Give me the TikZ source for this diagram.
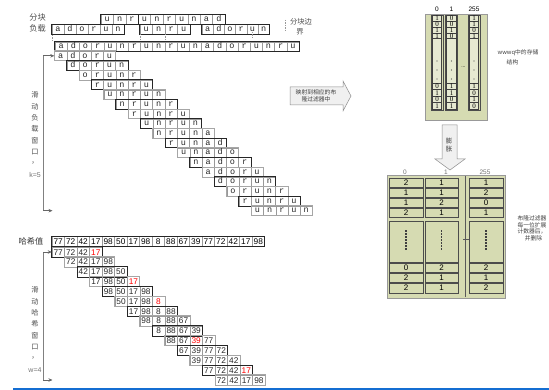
\documentclass[tikz,border=0pt]{standalone}
\usepackage{fontspec}
\setmainfont{Liberation Sans}
\newfontfamily\cjk{Noto Sans CJK SC}
\newfontfamily\monof{Liberation Mono}
\newfontfamily\seriff{Liberation Serif}
\usetikzlibrary{arrows.meta}
\definecolor{khaki}{RGB}{214,219,178}
\definecolor{bline}{RGB}{20,110,210}
\begin{document}
\begin{tikzpicture}[x=1pt,y=-1pt,
 lbl/.style={text=black!70, font=\cjk\fontsize{8.2}{8.5}\selectfont, inner sep=0pt},
 vlbl/.style={text=black!70, font=\cjk\fontsize{7.2}{7.5}\selectfont, inner sep=0pt},
 small/.style={text=black!75, font=\cjk\fontsize{5.8}{6.6}\selectfont, inner sep=0pt, align=center},
 lcell/.style={draw=black!40, line width=0.4pt, inner sep=0pt, minimum width=12.2pt, minimum height=9.5pt, text=black!85, font=\monof\fontsize{8.5}{8.5}\selectfont, text height=4.9pt, text depth=0.3pt},
 hcell/.style={draw=black!40, line width=0.4pt, inner sep=0pt, minimum width=12.5pt, minimum height=10pt, font=\fontsize{8.3}{8.3}\selectfont, text height=6pt, text depth=0pt},
 grpdark/.style={draw=black!85, line width=0.8pt},
 bound/.style={draw=black!40, dash pattern=on 1.5pt off 1pt, line width=0.5pt},
 brk/.style={draw=black!50, line width=0.5pt},
 brkarrow/.style={draw=black!60, line width=0.6pt, -{Stealth[length=4pt,width=3.5pt]}},
 blockarrow/.style={draw=black!45, fill=black!6, line width=0.5pt},
 khbox/.style={draw=black!40, fill=khaki, line width=0.5pt},
 tcell/.style={draw=black!75, line width=0.6pt, fill=khaki!60!white, inner sep=0pt, minimum width=9.5pt, font=\seriff\fontsize{7}{7}\selectfont, text height=4.6pt, text depth=0pt},
 tframe/.style={draw=black!70, line width=0.6pt},
 bcell/.style={draw=black!70, line width=0.9pt, fill=khaki, inner sep=0pt, font=\fontsize{8}{8}\selectfont, text height=5.8pt, text depth=0pt},
 colhead/.style={font=\fontsize{6.5}{6.5}\selectfont, inner sep=0pt},
]
\useasboundingbox (0,0) rectangle (549,390);

% ---------- top labels ----------
\node[lbl] (fk1) at (37.5,17) {分块};
\node[lbl] (fk2) at (37.5,28) {负载};
\coordinate (lg1) at (285,20);
\coordinate (lg2) at (285,32);
\draw[bound] (lg1) -- (lg2);
\node[lbl, font=\cjk\fontsize{7.3}{8}\selectfont] (bj1) at (301,22) {分块边};
\node[lbl, font=\cjk\fontsize{7.3}{8}\selectfont] (bj2) at (300,32) {界};

% row 1
\foreach \c [count=\k from 0] in {u,n,r,u,n,r,u,n,a,d}
  \node[lcell, minimum width=12.4pt] (ra\k) at ({101+6.2+12.4*\k},19) {\c};
\draw[grpdark] (ra0.north west) rectangle (ra2.south east);
\draw[grpdark] (ra3.north west) rectangle (ra9.south east);
% row 2
\foreach \c [count=\k from 0] in {a,d,o,r,u,n}
  \node[lcell, minimum width=12pt] (rA\k) at ({52+6+12*\k},29) {\c};
\foreach \c [count=\k from 0] in {u,n,r,u}
  \node[lcell, minimum width=12.5pt] (rB\k) at ({140+6.25+12.5*\k},29) {\c};
\foreach \c [count=\k from 0] in {a,d,o,r,u,n}
  \node[lcell, minimum width=11.2pt] (rC\k) at ({202+5.6+11.2*\k},29) {\c};
\draw[grpdark] (rA0.north west) rectangle (rA5.south east);
\draw[grpdark] (rB0.north west) rectangle (rB3.south east);
\draw[grpdark] (rC0.north west) rectangle (rC5.south east);
% boundaries
\foreach \bx/\ya/\yb [count=\k] in {52/35/41,140/34/40,165/34/40,252/32/39}{
  \coordinate (bd\k a) at (\bx,\ya);
  \coordinate (bd\k b) at (\bx,\yb);
  \draw[bound] (bd\k a) -- (bd\k b);
}
% row 3: full string
\foreach \c [count=\k from 0] in {a,d,o,r,u,n,r,u,n,r,u,n,a,d,o,r,u,n,r,u}
  \node[lcell] (rs\k) at ({55+6.1+12.2*\k},46.5) {\c};
\draw[grpdark] (rs0.north west) rectangle (rs19.south east);

% sliding windows k=5
\foreach \w [count=\i from 0] in {{a,d,o,r,u},{d,o,r,u,n},{o,r,u,n,r},{r,u,n,r,u},{u,n,r,u,n},{n,r,u,n,r},{r,u,n,r,u},{u,n,r,u,n},{n,r,u,n,a},{r,u,n,a,d},{u,n,a,d,o},{n,a,d,o,r},{a,d,o,r,u},{d,o,r,u,n},{o,r,u,n,r},{r,u,n,r,u},{u,n,r,u,n}}{
  \foreach \c [count=\j from 0] in \w
    \node[lcell] (w\i-\j) at ({54.5+6.1+12.3*\i+12.2*\j},{55.8+9.68*\i}) {\c};
  \pgfmathtruncatemacro\oc{ifthenelse(mod(\i,2)==1,85,35)}
  \draw[draw=black!\oc, line width=0.8pt] (w\i-0.north west) rectangle (w\i-4.south east);
}
\coordinate (tb1) at (43,55.8);
\coordinate (tb2) at (43,210.7);
\coordinate (tb3) at (52.5,210.7);
\draw[brk] (tb1) -- (tb2);
\draw[brkarrow] (tb1) -- (w0-0.west);
\draw[brkarrow] (tb2) -- (tb3);
\foreach \ch [count=\k from 0] in {滑,动,负,载,窗,口,，}
  \node[vlbl] (vk\k) at ({35},{95+11.4*\k}) {\ch};
\node[lbl, font=\fontsize{7}{7}\selectfont, text=black!55] (vk7) at (35,174.8) {k=5};

% middle block arrow
\draw[blockarrow] (290,87) -- (343,87) -- (343,81) -- (351,96) -- (343,111) -- (343,105) -- (290,105) -- cycle;
\node[small] (mid) at (316,96) {映射到相应的布\\隆过滤器中};

% ---------- top right box ----------
\node[colhead] (h0) at (437,9) {0};
\node[colhead] (h1) at (451.5,9) {1};
\node[colhead] (h2) at (474,9) {255};
\draw[khbox] (425,14) rectangle (487,120);
\foreach \cx/\fw [count=\c from 0] in {437/12,451.5/11.5,474/12}
  \draw[tframe] ({\cx-\fw/2},15.5) rectangle ({\cx+\fw/2},110);
\foreach \cx/\va/\vb/\vc/\vd/\ve/\vf/\vg/\vh [count=\c from 0] in {437/1/0/1/1/0/1/0/1, 451.5/0/0/1/0/1/1/0/1, 474/1/1/0/1/1/0/1/0}{
  \foreach \v [count=\r from 0] in {\va,\vb,\vc,\vd}
    \node[tcell, minimum height=5.8pt] (bt\c-\r) at (\cx,{18.4+5.8*\r}) {\v};
  \node[tcell, minimum height=44.3pt] (bt\c-m) at (\cx,60.85) {};
  \foreach \v [count=\r from 0] in {\ve,\vf,\vg,\vh}
    \node[tcell, minimum height=6.6pt] (bt\c-b\r) at (\cx,{86.3+6.6*\r}) {\v};
  \foreach \dy in {61,70,79}
    \fill[black!70] (\cx,\dy) circle (0.55);
}
\node[font=\fontsize{5}{5}\selectfont, inner sep=0pt] (tdots) at (463.5,67) {...};
\node[small] (lab1) at (518,53) {wwwq中的存储};
\node[small] (lab2) at (512.5,62) {结构};

% down block arrow
\draw[blockarrow] (442,125) -- (457,125) -- (457,159) -- (465,159) -- (450,170) -- (435,159) -- (442,159) -- cycle;
\node[small, font=\cjk\fontsize{6.5}{7}\selectfont] (pz1) at (449,141.5) {膨};
\node[small, font=\cjk\fontsize{6.5}{7}\selectfont] (pz2) at (449,149.5) {胀};

% ---------- bottom right box ----------
\node[colhead, text=black!55] (g0) at (405,172) {0};
\node[colhead, text=black!55] (g1) at (446,172) {1};
\node[colhead, text=black!55] (g2) at (485,172) {255};
\draw[khbox] (387,175) rectangle (505,298);
\coordinate (sep1) at (465,176.5);
\coordinate (sep2) at (465,296.5);
\coordinate (tk1) at (463,239);
\coordinate (tk2) at (472,239);
\draw[black!65, line width=0.7pt] (sep1) -- (sep2);
\draw[black!65, line width=0.7pt] (tk1) -- (tk2);
\foreach \cx/\cw/\va/\vb/\vc/\vd/\ve/\vf/\vg [count=\c from 0] in {406/34/2/1/1/2/0/2/2, 441.5/33/1/1/2/1/2/1/1, 486/34/1/2/0/1/2/1/2}{
  \foreach \v/\cy/\ch [count=\r from 0] in {\va/182.5/9,\vb/193/8.4,\vc/203/8.4,\vd/213/8.4,\ve/267.5/9,\vf/277.5/9,\vg/288/10}
    \node[bcell, minimum width=\cw pt, minimum height=\ch pt] (bb\c-\r) at (\cx,\cy) {\v};
  \node[bcell, minimum width=\cw pt, minimum height=41pt] (bb\c-m) at (\cx,241.5) {};
  \draw[black!75, line width=1.1pt, dash pattern=on 1.1pt off 1.9pt] (\cx,230.5) -- (\cx,250);
}
\node[small, font=\cjk\fontsize{5.8}{6.5}\selectfont, align=center] (note) at (532,228.5) {布隆过滤器\\每一位扩展\\计数器后，\\\hspace*{3pt}并删除};

% ---------- hash section ----------
\node[lbl, text=black!80] (hx) at (31,241.5) {哈希值};
\foreach \v [count=\k from 0] in {77,72,42,17,98,50,17,98,8,88,67,39,77,72,42,17,98}
  \node[hcell] (h\k) at ({52+6.25+12.5*\k},241.5) {\v};
\draw[grpdark] (h0.north west) rectangle (h16.south east);
\def\hashwins{{77,72,42,17},{72,42,17,98},{42,17,98,50},{17,98,50,17},{98,50,17,98},{50,17,98,8},{17,98,8,88},{98,8,88,67},{8,88,67,39},{88,67,39,77},{67,39,77,72},{39,77,72,42},{77,72,42,17},{72,42,17,98}}
\foreach \w [count=\i from 0] in \hashwins {
  \pgfmathtruncatemacro\ri{{3,9,9,3,9,3,9,9,9,2,9,9,3,9}[\i]}
  \foreach \v [count=\j from 0] in \w {
    \ifnum\j=\ri\relax\def\tc{red}\else\def\tc{black!85}\fi
    \node[hcell, text=\tc] (hw\i-\j) at ({52+6.25+12.55*\i+12.5*\j},{252+9.85*\i}) {\v};
  }
  \pgfmathtruncatemacro\oc{ifthenelse(mod(\i,2)==0,85,35)}
  \draw[draw=black!\oc, line width=0.8pt] (hw\i-0.north west) rectangle (hw\i-3.south east);
}
\coordinate (hb1) at (43,252);
\coordinate (hb2) at (43,380);
\coordinate (hb3) at (52.5,380);
\draw[brk] (hb1) -- (hb2);
\draw[brkarrow] (hb1) -- (hw0-0.west);
\draw[brkarrow] (hb2) -- (hb3);
\foreach \ch [count=\k from 0] in {滑,动,哈,希,窗,口,，}
  \node[vlbl] (vh\k) at ({35},{290+11.4*\k}) {\ch};
\node[lbl, font=\fontsize{7}{7}\selectfont, text=black!55] (vh7) at (35,370) {w=4};

% bottom blue rule
\coordinate (bl1) at (13,389);
\coordinate (bl2) at (549,389);
\draw[bline, line width=2.5pt] (bl1) -- (bl2);
\end{tikzpicture}
\end{document}
